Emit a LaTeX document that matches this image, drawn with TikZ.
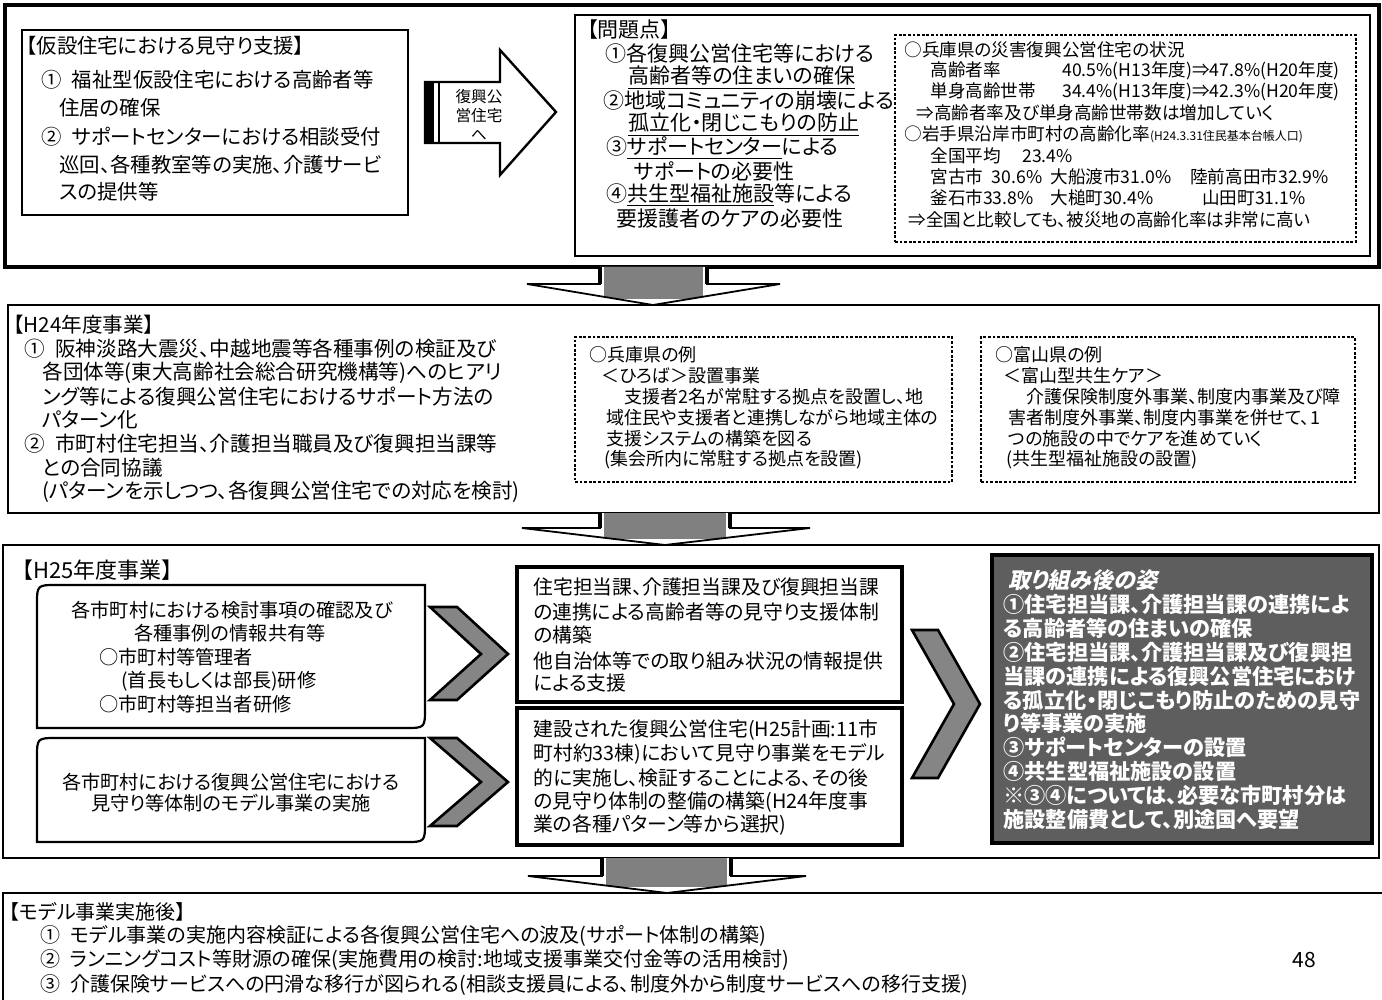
\documentclass[tikz,border=0pt]{standalone}
\usepackage{fontspec}
\setmainfont{Noto Sans CJK JP}[RawFeature=+palt]
\newfontfamily\jpslant{Noto Sans CJK JP}[FakeSlant=0.22,RawFeature=+palt]
\usetikzlibrary{fit}
\newcommand\fsz[2]{\fontsize{#1}{#2}\selectfont}
\tikzset{
  frame/.style={draw=black, line width=1.6pt, inner sep=0pt},
  secbox/.style={draw=black, line width=1.1pt, inner sep=0pt},
  tbox/.style={draw=black, line width=0.8pt, inner sep=0pt},
  hbox/.style={draw=black, line width=1.6pt, inner sep=0pt},
  dbox/.style={draw=black, line width=0.55pt, dash pattern=on 1.4pt off 0.9pt, inner sep=0pt},
  ln/.style={anchor=west, inner sep=0pt},
  cln/.style={anchor=center, inner sep=0pt},
  chev/.style={draw=black, line width=1.3pt, fill=black!48, line join=miter},
  rbox/.style={draw=black, line width=1.1pt},
}
\newcommand\dnarr[8]{%
  \fill[white] (#1,#3) -- (#1,#4) -- (#5,#4) -- (#7,#8) -- (#6,#4) -- (#2,#4) -- (#2,#3) -- cycle;
  \begin{scope}
    \clip (#1,#3) -- (#1,#4) -- (#5,#4) -- (#7,#8) -- (#6,#4) -- (#2,#4) -- (#2,#3) -- cycle;
    \fill[black!50] (#1+4,#3) rectangle (#2-4,#8-6);
  \end{scope}
  \draw[line width=0.9pt, line join=miter] (#1,#3) -- (#1,#4) -- (#5,#4) -- (#7,#8) -- (#6,#4) -- (#2,#4) -- (#2,#3);
  \draw[line width=1.6pt] (#1,#3) -- (#1,#4) (#2,#3) -- (#2,#4);
}
\begin{document}
\begin{tikzpicture}[x=0.5pt,y=-0.5pt]
\useasboundingbox[fill=white] (0,0) rectangle (1382,1000);

% ---------------- Section 1
\node[frame, fit={(5,5)(1379,267)}] (sec1) {};
\node[tbox, fit={(22,30)(408,215)}] (kasetsu) {};
\begin{scope}[font=\fsz{10.2}{12}]
  \node[ln] (k1) at (26,46) {【仮設住宅における見守り支援】};
  \node[ln] (k2) at (41,80) {①\hspace{0.5em}福祉型仮設住宅における高齢者等};
  \node[ln] (k3) at (59,108) {住居の確保};
  \node[ln] (k4) at (41,137) {②\hspace{0.5em}サポートセンターにおける相談受付};
  \node[ln] (k5) at (59,165) {巡回、各種教室等の実施、介護サービ};
  \node[ln] (k6) at (59,192) {スの提供等};
\end{scope}

% big right arrow
\draw[line width=1.2pt, fill=white, line join=miter] (425,82) -- (500,82) -- (500,50) -- (556,112) -- (500,175) -- (500,143) -- (425,143) -- cycle;
\fill (425,82) rectangle (434,143);
\draw[line width=0.6pt] (439,82) -- (439,143);
\begin{scope}[font=\fsz{7.8}{9}]
  \node[cln] (a1) at (479,97) {復興公};
  \node[cln] (a2) at (479,116) {営住宅};
  \node[cln] (a3) at (479,135) {へ};
\end{scope}

\node[tbox, fit={(575,15)(1370,256)}] (mondai) {};
\begin{scope}[font=\fsz{10.5}{12}]
  \node[ln] (m0) at (587,30) {【問題点】};
  \node[ln] (m1) at (605,54) {①各復興公営住宅等における};
  \node[ln] (m2) at (628,77.5) {\underline{高齢者等の住まいの確保}};
  \node[ln] (m3) at (603,101) {②地域コミュニティの崩壊による};
  \node[ln] (m4) at (628,124.5) {\underline{孤立化・閉じこもりの防止}};
  \node[ln] (m5) at (606,148) {③\underline{サポートセンター}による};
  \node[ln] (m6) at (634,171.5) {サポートの必要性};
  \node[ln] (m7) at (606,195) {④\underline{共生型福祉施設}等による};
  \node[ln] (m8) at (616,218.5) {要援護者のケアの必要性};
\end{scope}

\node[dbox, fit={(895,35)(1356,242)}] (hyogo1) {};
\begin{scope}[font=\fsz{8.8}{10}]
  \node[ln] (d1) at (904,50) {○兵庫県の災害復興公営住宅の状況};
  \node[ln] (d2) at (930,71) {\makebox[66pt][l]{高齢者率}40.5\%(H13年度)⇒47.8\%(H20年度)};
  \node[ln] (d3) at (930,92) {\makebox[66pt][l]{単身高齢世帯}34.4\%(H13年度)⇒42.3\%(H20年度)};
  \node[ln] (d4) at (916,113) {⇒高齢者率及び単身高齢世帯数は増加していく};
  \node[ln] (d5) at (904,134) {○岩手県沿岸市町村の高齢化率{\fsz{6}{7}(H24.3.31住民基本台帳人口)}};
  \node[ln] (d6) at (930,156) {\makebox[46pt][l]{全国平均}23.4\%};
  \node[ln] (d7) at (930,177) {\makebox[60pt][l]{宮古市\hspace{0.5em}30.6\%}\makebox[70pt][l]{大船渡市31.0\%}陸前高田市32.9\%};
  \node[ln] (d8) at (930,198) {\makebox[60pt][l]{釜石市33.8\%}\makebox[76pt][l]{大槌町30.4\%}山田町31.1\%};
  \node[ln] (d9) at (908,220) {⇒全国と比較しても、被災地の高齢化率は非常に高い};
\end{scope}

% ---------------- arrow 1
\dnarr{600}{707}{267}{284}{527}{780}{653}{305}

% ---------------- Section 2
\node[tbox, fit={(8,305)(1379,513)}] (sec2) {};
\begin{scope}[font=\fsz{10.3}{12}]
  \node[ln] (h0) at (13,325) {【H24年度事業】};
  \node[ln] (h1) at (24,349) {①\hspace{0.5em}阪神淡路大震災、中越地震等各種事例の検証及び};
  \node[ln] (h2) at (42,373) {各団体等(東大高齢社会総合研究機構等)へのヒアリ};
  \node[ln] (h3) at (42,397) {ング等による復興公営住宅におけるサポート方法の};
  \node[ln] (h4) at (42,420) {パターン化};
  \node[ln] (h5) at (24,444) {②\hspace{0.5em}市町村住宅担当、介護担当職員及び復興担当課等};
  \node[ln] (h6) at (42,468) {との合同協議};
  \node[ln] (h7) at (42,492) {(パターンを示しつつ、各復興公営住宅での対応を検討)};
\end{scope}

\node[dbox, fit={(575,337)(952,482)}] (hyogo2) {};
\node[dbox, fit={(981,337)(1355,482)}] (toyama) {};
\begin{scope}[font=\fsz{9}{10.5}]
  \node[ln] (y1) at (589,355) {○兵庫県の例};
  \node[ln] (y2) at (601,376) {＜ひろば＞設置事業};
  \node[ln] (y3) at (624,397) {支援者2名が常駐する拠点を設置し、地};
  \node[ln] (y4) at (606,418) {域住民や支援者と連携しながら地域主体の};
  \node[ln] (y5) at (606,439) {支援システムの構築を図る};
  \node[ln] (y6) at (604,460) {(集会所内に常駐する拠点を設置)};
  \node[ln] (t1) at (995,355) {○富山県の例};
  \node[ln] (t2) at (1003,376) {＜富山型共生ケア＞};
  \node[ln] (t3) at (1026,397) {介護保険制度外事業、制度内事業及び障};
  \node[ln] (t4) at (1008,418) {害者制度外事業、制度内事業を併せて、1};
  \node[ln] (t5) at (1008,439) {つの施設の中でケアを進めていく};
  \node[ln] (t6) at (1006,460) {(共生型福祉施設の設置)};
\end{scope}

% ---------------- arrow 2
\dnarr{600}{730}{513}{528}{522}{810}{665}{545}

% ---------------- Section 3
\node[secbox, fit={(3,545)(1379,858)}] (sec3) {};
\node[ln, font=\fsz{11}{13}] (h25) at (22,570) {【H25年度事業】};

\draw[rbox] (37,728) -- (37,605) .. controls (37,585) .. (57,585) -- (425,585) -- (425,708) .. controls (425,728) .. (405,728) -- cycle;
\draw[rbox] (37,842) -- (37,758) .. controls (37,738) .. (57,738) -- (425,738) -- (425,822) .. controls (425,842) .. (405,842) -- cycle;
\begin{scope}[font=\fsz{9.6}{11}]
  \node[cln] (b1) at (232,610) {各市町村における検討事項の確認及び};
  \node[cln] (b2) at (230,633) {各種事例の情報共有等};
  \node[ln] (b3) at (99,657) {○市町村等管理者};
  \node[ln] (b4) at (121,681) {(首長もしくは部長)研修};
  \node[ln] (b5) at (99,704) {○市町村等担当者研修};
  \node[cln] (c1) at (231,782) {各市町村における復興公営住宅における};
  \node[cln] (c2) at (231,803) {見守り等体制のモデル事業の実施};
\end{scope}

\draw[chev] (430,607) -- (457,607) -- (508,654) -- (457,700) -- (430,700) -- (481,654) -- cycle;
\draw[chev] (430,738) -- (457,738) -- (508,782) -- (457,826) -- (430,826) -- (481,782) -- cycle;

\node[hbox, fit={(517,567)(902,702)}] (renkei) {};
\node[hbox, fit={(517,708)(902,845)}] (model) {};
\begin{scope}[font=\fsz{9.9}{12}]
  \node[ln] (r1) at (533,587) {住宅担当課、介護担当課及び復興担当課};
  \node[ln] (r2) at (533,612) {の連携による高齢者等の見守り支援体制};
  \node[ln] (r3) at (533,635) {の構築};
  \node[ln] (r4) at (533,661) {他自治体等での取り組み状況の情報提供};
  \node[ln] (r5) at (533,683) {による支援};
  \node[ln] (s1) at (533,730) {建設された復興公営住宅(H25計画:11市};
  \node[ln] (s2) at (533,754) {町村約33棟)において見守り事業をモデル};
  \node[ln] (s3) at (533,778) {的に実施し、検証することによる、その後};
  \node[ln] (s4) at (533,802) {の見守り体制の整備の構築(H24年度事};
  \node[ln] (s5) at (533,825) {業の各種パターン等から選択)};
\end{scope}

\draw[chev] (912,630) -- (938,630) -- (980,704) -- (938,778) -- (912,778) -- (954,704) -- cycle;

\node[hbox, fill=black!63, fit={(992,555)(1372,843)}] (sugata) {};
\node[ln, font=\fsz{11}{13}\jpslant\bfseries, text=white] (e0) at (1008,580) {取り組み後の姿};
\begin{scope}[font=\fsz{10.6}{12}\bfseries, text=white]
  \node[ln] (e1) at (1003,604) {①住宅担当課、介護担当課の連携によ};
  \node[ln] (e2) at (1003,628) {る高齢者等の住まいの確保};
  \node[ln] (e3) at (1003,652) {②住宅担当課、介護担当課及び復興担};
  \node[ln] (e4) at (1003,676) {当課の連携による復興公営住宅におけ};
  \node[ln] (e5) at (1003,700) {る孤立化・閉じこもり防止のための見守};
  \node[ln] (e6) at (1003,723) {り等事業の実施};
  \node[ln] (e7) at (1003,747) {③サポートセンターの設置};
  \node[ln] (e8) at (1003,771) {④共生型福祉施設の設置};
  \node[ln] (e9) at (1003,795) {※③④については、必要な市町村分は};
  \node[ln] (e10) at (1003,819) {施設整備費として、別途国へ要望};
\end{scope}

% ---------------- arrow 3
\dnarr{602}{731}{858}{876}{528}{806}{667}{893}

% ---------------- Section 4
\node[tbox, fit={(3,893)(1395,1012)}] (sec4) {};
\begin{scope}[font=\fsz{10}{12}]
  \node[ln] (f0) at (9,912) {【モデル事業実施後】};
  \node[ln] (f1) at (40,936) {①\hspace{0.5em}モデル事業の実施内容検証による各復興公営住宅への波及(サポート体制の構築)};
  \node[ln] (f2) at (40,960) {②\hspace{0.5em}ランニングコスト等財源の確保(実施費用の検討:地域支援事業交付金等の活用検討)};
  \node[ln] (f3) at (40,985) {③\hspace{0.5em}介護保険サービスへの円滑な移行が図られる(相談支援員による、制度外から制度サービスへの移行支援)};
\end{scope}
\node[cln, font=\fsz{10.5}{12}] (pg) at (1304,960) {48};
\end{tikzpicture}
\end{document}
